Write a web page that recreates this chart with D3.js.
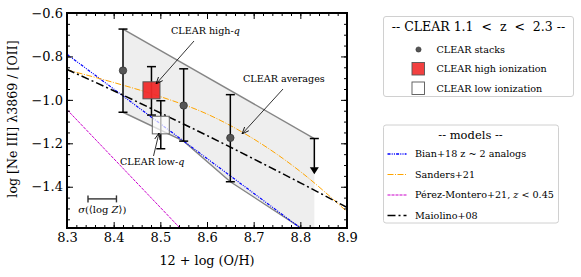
<!DOCTYPE html>
<html>
<head>
<meta charset="utf-8">
<script src="https://cdn.jsdelivr.net/npm/d3@7"></script>
<style>
  body { margin: 0; background: #fff; }
  svg text { font-family: "DejaVu Serif", serif; }
  .pre { white-space: pre; }
</style>
</head>
<body>
<div id="chart"></div>
<script>
// ---- data ----
var xTicks = [8.3, 8.4, 8.5, 8.6, 8.7, 8.8, 8.9];
var yTicks = [-0.6, -0.8, -1.0, -1.2, -1.4];

// CLEAR stacks (metallicity bins)
var stackOH = [8.42, 8.55, 8.65];
var stackNe = [-0.865, -1.026, -1.175];
var stackHi = [-0.674, -0.857, -0.976];
var stackLo = [-1.057, -1.19, -1.377];

// upper limit at the highest bin
var limitOH = [8.83];
var limitTop = [-1.178];
var limitTip = [-1.343];

// high / low ionization stacks
var highQ = [8.481, -0.956, -0.847, -1.07];   // oh, ne, hi, lo
var lowQ = [8.501, -1.116, -1.004, -1.225];

// averages band
var avgTop = [[8.42, -0.674], [8.83, -1.178]];
var avgBot = [[8.42, -1.057], [8.55, -1.19], [8.65, -1.377], [8.83, -1.63]];

// model relations
var bianOH = [8.3, 8.8], bianNe = [-0.79, -1.59];
var sandersOH = [8.3, 8.4, 8.5, 8.6, 8.7, 8.8, 8.9];
var sandersNe = [-0.862, -0.92, -0.985, -1.065, -1.18, -1.33, -1.515];
var perezOH = [8.3, 8.542], perezNe = [-1.045, -1.59];
var maiolinoOH = [8.3, 8.4, 8.5, 8.6, 8.7, 8.8, 8.9];
var maiolinoNe = [-0.86, -0.958, -1.06, -1.164, -1.272, -1.382, -1.495];

// metallicity uncertainty bar
var sigmaBar = [8.345, 8.406, -1.456];

var models = [
  { name: "Bian+18", oh: bianOH, ne: bianNe, color: "#0000ff", dash: "3,1.2,1,1.2,1,1.2", w: 1.2 },
  { name: "Sanders+21", oh: sandersOH, ne: sandersNe, color: "#ffa500", dash: "6,1.5,1,1.5", w: 1 },
  { name: "Pérez-Montero+21", oh: perezOH, ne: perezNe, color: "#cc00cc", dash: "3,1", w: 1 },
  { name: "Maiolino+08", oh: maiolinoOH, ne: maiolinoNe, color: "#000000", dash: "8,3,2,3", w: 1.5 }
];

// ---- layout ----
var W = 581, H = 277;
var margin = { top: 13, left: 67 },
  width = 280,
  height = 215;

var svg = d3.select("#chart").append("svg")
  .attr("width", W).attr("height", H);

var g = svg.append("g")
  .attr("transform", "translate(" + margin.left + "," + margin.top + ")");

var x = d3.scaleLinear().domain([8.3, 8.9]).range([0, width]);
var y = d3.scaleLinear().domain([-1.59, -0.6]).range([height, 0]);

svg.append("defs").append("clipPath").attr("id", "plotclip")
  .append("rect").attr("width", width).attr("height", height);

var plot = g.append("g").attr("clip-path", "url(#plotclip)");

// averages band
var band = avgTop.concat(avgBot.slice().reverse());
plot.append("path")
  .attr("d", d3.line().x(function(d) { return x(d[0]); }).y(function(d) { return y(d[1]); })(band) + "Z")
  .attr("fill", "#eeeeee");
[avgTop, avgBot].forEach(function(edge) {
  plot.append("path")
    .attr("d", d3.line().x(function(d) { return x(d[0]); }).y(function(d) { return y(d[1]); })(edge))
    .attr("fill", "none").attr("stroke", "#858585").attr("stroke-width", 1.4);
});

// model lines
models.forEach(function(m) {
  plot.append("path")
    .datum(d3.range(m.oh.length))
    .attr("fill", "none")
    .attr("stroke", m.color)
    .attr("stroke-width", m.w)
    .attr("stroke-dasharray", m.dash)
    .attr("d", d3.line()
      .curve(d3.curveMonotoneX)
      .x(function(i) { return x(m.oh[i]); })
      .y(function(i) { return y(m.ne[i]); }));
});

// error bar helper
function errbar(oh, hi, lo, capBottom) {
  plot.append("line")
    .attr("x1", x(oh)).attr("x2", x(oh))
    .attr("y1", y(hi)).attr("y2", y(lo))
    .attr("stroke", "#000").attr("stroke-width", 1.5);
  plot.append("line")
    .attr("x1", x(oh) - 4.5).attr("x2", x(oh) + 4.5)
    .attr("y1", y(hi)).attr("y2", y(hi))
    .attr("stroke", "#000").attr("stroke-width", 1.5);
  if (capBottom) {
    plot.append("line")
      .attr("x1", x(oh) - 4.5).attr("x2", x(oh) + 4.5)
      .attr("y1", y(lo)).attr("y2", y(lo))
      .attr("stroke", "#000").attr("stroke-width", 1.5);
  }
}

stackOH.forEach(function(oh, i) { errbar(oh, stackHi[i], stackLo[i], true); });

// upper limit
errbar(limitOH[0], limitTop[0], limitTip[0] + 0.03, false);
plot.append("path")
  .attr("d", "M" + (x(limitOH[0]) - 4.5) + "," + (y(limitTip[0]) - 7) +
    "L" + (x(limitOH[0]) + 4.5) + "," + (y(limitTip[0]) - 7) +
    "L" + x(limitOH[0]) + "," + y(limitTip[0]) + "Z")
  .attr("fill", "#000");

// stack points
plot.selectAll("circle.stack")
  .data(stackOH)
  .enter().append("circle")
  .attr("class", "stack")
  .attr("cx", function(d) { return x(d); })
  .attr("cy", function(d, i) { return y(stackNe[i]); })
  .attr("r", 3.7)
  .attr("fill", "#555555")
  .attr("stroke", "#333").attr("stroke-width", 0.8);

// high-q
errbar(highQ[0], highQ[2], highQ[3], true);
plot.append("rect")
  .attr("x", x(highQ[0]) - 8.5).attr("y", y(highQ[1]) - 8.5)
  .attr("width", 17).attr("height", 17)
  .attr("fill", "#f02a2a").attr("fill-opacity", 0.95)
  .attr("stroke", "#555").attr("stroke-width", 1);

// low-q
errbar(lowQ[0], lowQ[2], lowQ[3], true);
plot.append("rect")
  .attr("x", x(lowQ[0]) - 8.5).attr("y", y(lowQ[1]) - 8.8)
  .attr("width", 17).attr("height", 17.6)
  .attr("fill", "#fff").attr("fill-opacity", 0.7)
  .attr("stroke", "#666").attr("stroke-width", 1);

// sigma bar
plot.append("line")
  .attr("x1", x(sigmaBar[0])).attr("x2", x(sigmaBar[1]))
  .attr("y1", y(sigmaBar[2])).attr("y2", y(sigmaBar[2]))
  .attr("stroke", "#333").attr("stroke-width", 1.4);
[sigmaBar[0], sigmaBar[1]].forEach(function(v) {
  plot.append("line")
    .attr("x1", x(v)).attr("x2", x(v))
    .attr("y1", y(sigmaBar[2]) - 3.5).attr("y2", y(sigmaBar[2]) + 3.5)
    .attr("stroke", "#333").attr("stroke-width", 1.4);
});
var sig = g.append("text")
  .attr("x", (x(sigmaBar[0]) + x(sigmaBar[1])) / 2)
  .attr("y", y(sigmaBar[2]) + 14.5)
  .attr("text-anchor", "middle")
  .attr("font-size", "10px");
sig.append("tspan").attr("font-style", "italic").text("σ");
sig.append("tspan").text("(⟨log ");
sig.append("tspan").attr("font-style", "italic").text("Z");
sig.append("tspan").text("⟩)");

// annotations
var defs = svg.select("defs");
defs.append("marker")
  .attr("id", "arrow").attr("viewBox", "0 0 10 10")
  .attr("refX", 10).attr("refY", 5)
  .attr("markerWidth", 7).attr("markerHeight", 7)
  .attr("markerUnits", "userSpaceOnUse")
  .attr("orient", "auto")
  .append("path").attr("d", "M0,1 L10,5 L0,9")
  .attr("fill", "none").attr("stroke", "#000").attr("stroke-width", 1.2);

function annotate(label, italicSuffix, tx, ty, ax0, ay0, ax1, ay1) {
  var t = svg.append("text").attr("x", tx).attr("y", ty).attr("font-size", "9.6px");
  t.append("tspan").text(label);
  if (italicSuffix) t.append("tspan").attr("font-style", "italic").text(italicSuffix);
  svg.append("line")
    .attr("x1", ax0).attr("y1", ay0).attr("x2", ax1).attr("y2", ay1)
    .attr("stroke", "#000").attr("stroke-width", 0.8)
    .attr("marker-end", "url(#arrow)");
}
annotate("CLEAR high-", "q", 171, 34, 194, 41, 156, 84);
annotate("CLEAR averages", null, 243, 82, 283, 89, 242, 134);
annotate("CLEAR low-", "q", 120, 165, 153.5, 156, 159, 133);

// ---- axes ----
var fmt = function(d) { return d.toFixed(1).replace("-", "\u2212"); };
var xMinor = d3.range(8.3, 8.9001, 0.02);
var yMinor = d3.range(-1.55, -0.5999, 0.05);

function addAxis(axis, transform) {
  var a = g.append("g").attr("transform", transform).call(axis);
  a.select(".domain").remove();
  a.selectAll("line").attr("stroke", "#000").attr("stroke-width", 1);
  return a;
}

addAxis(d3.axisBottom(x).tickValues(xTicks).tickSize(-6).tickPadding(5).tickFormat(fmt), "translate(0," + height + ")");
addAxis(d3.axisBottom(x).tickValues(xMinor).tickSize(-3).tickFormat(""), "translate(0," + height + ")");
addAxis(d3.axisTop(x).tickValues(xTicks).tickSize(-6).tickFormat(""), "translate(0,0)");
addAxis(d3.axisTop(x).tickValues(xMinor).tickSize(-3).tickFormat(""), "translate(0,0)");
addAxis(d3.axisLeft(y).tickValues(yTicks).tickSize(-6).tickPadding(4).tickFormat(fmt), "translate(0,0)");
addAxis(d3.axisLeft(y).tickValues(yMinor).tickSize(-3).tickFormat(""), "translate(0,0)");
addAxis(d3.axisRight(y).tickValues(yTicks).tickSize(-6).tickFormat(""), "translate(" + width + ",0)");
addAxis(d3.axisRight(y).tickValues(yMinor).tickSize(-3).tickFormat(""), "translate(" + width + ",0)");

g.selectAll(".tick text")
  .attr("font-family", "DejaVu Serif")
  .attr("font-size", "13px")
  .attr("fill", "#000");

// frame
g.append("rect")
  .attr("width", width).attr("height", height)
  .attr("fill", "none").attr("stroke", "#000").attr("stroke-width", 2);

// axis labels
g.append("text")
  .attr("x", width / 2).attr("y", height + 37)
  .attr("text-anchor", "middle")
  .attr("font-size", "12.8px")
  .text("12 + log (O/H)");
svg.append("text")
  .attr("transform", "translate(17," + (margin.top + 106) + ")rotate(-90)")
  .attr("text-anchor", "middle")
  .attr("font-size", "12.6px")
  .text("log [Ne III] λ3869 / [OII]");

// ---- legend: CLEAR ----
var leg1 = svg.append("g").attr("transform", "translate(383.5,16.5)");
leg1.append("rect").attr("width", 190).attr("height", 80).attr("rx", 2.5)
  .attr("fill", "#fff").attr("stroke", "#d0d0d0").attr("stroke-width", 1);
leg1.append("text").attr("class", "pre")
  .attr("x", 95).attr("y", 14.5).attr("text-anchor", "middle")
  .attr("font-size", "12.5px")
  .text("-- CLEAR 1.1  <  z  <  2.3 --");
leg1.append("circle").attr("cx", 35).attr("cy", 33).attr("r", 2.6)
  .attr("fill", "#555").attr("stroke", "#333").attr("stroke-width", 0.6);
leg1.append("rect").attr("x", 28.5).attr("y", 46).attr("width", 12.5).attr("height", 12.5)
  .attr("fill", "#f24040").attr("stroke", "#555").attr("stroke-width", 0.9);
leg1.append("rect").attr("x", 28.5).attr("y", 65.5).attr("width", 12.5).attr("height", 12.5)
  .attr("fill", "#fff").attr("stroke", "#555").attr("stroke-width", 0.9);
["CLEAR stacks", "CLEAR high ionization", "CLEAR low ionization"].forEach(function(t, i) {
  leg1.append("text").attr("x", 53).attr("y", 33 + i * 19.5).attr("dy", "0.35em")
    .attr("font-size", "9.6px").text(t);
});

// ---- legend: models ----
var leg2 = svg.append("g").attr("transform", "translate(383.5,125)");
leg2.append("rect").attr("width", 175).attr("height", 98).attr("rx", 2.5)
  .attr("fill", "#fff").attr("stroke", "#d0d0d0").attr("stroke-width", 1);
leg2.append("text")
  .attr("x", 87).attr("y", 14).attr("text-anchor", "middle")
  .attr("font-size", "11.5px")
  .text("-- models --");
models.forEach(function(m, i) {
  var yy = 29 + i * 20.5;
  leg2.append("line")
    .attr("x1", 4).attr("x2", 23).attr("y1", yy).attr("y2", yy)
    .attr("stroke", m.color).attr("stroke-width", m.w + 0.2)
    .attr("stroke-dasharray", m.dash);
  var t = leg2.append("text").attr("x", 31.5).attr("y", yy).attr("dy", "0.35em").attr("font-size", "9.6px");
  if (i === 0) {
    t.append("tspan").text("Bian+18 z ~ 2 analogs");
  } else if (i === 2) {
    t.append("tspan").text("Pérez-Montero+21, ");
    t.append("tspan").attr("font-style", "italic").text("z");
    t.append("tspan").text(" < 0.45");
  } else {
    t.append("tspan").text(m.name);
  }
});
</script>
</body>
</html>
